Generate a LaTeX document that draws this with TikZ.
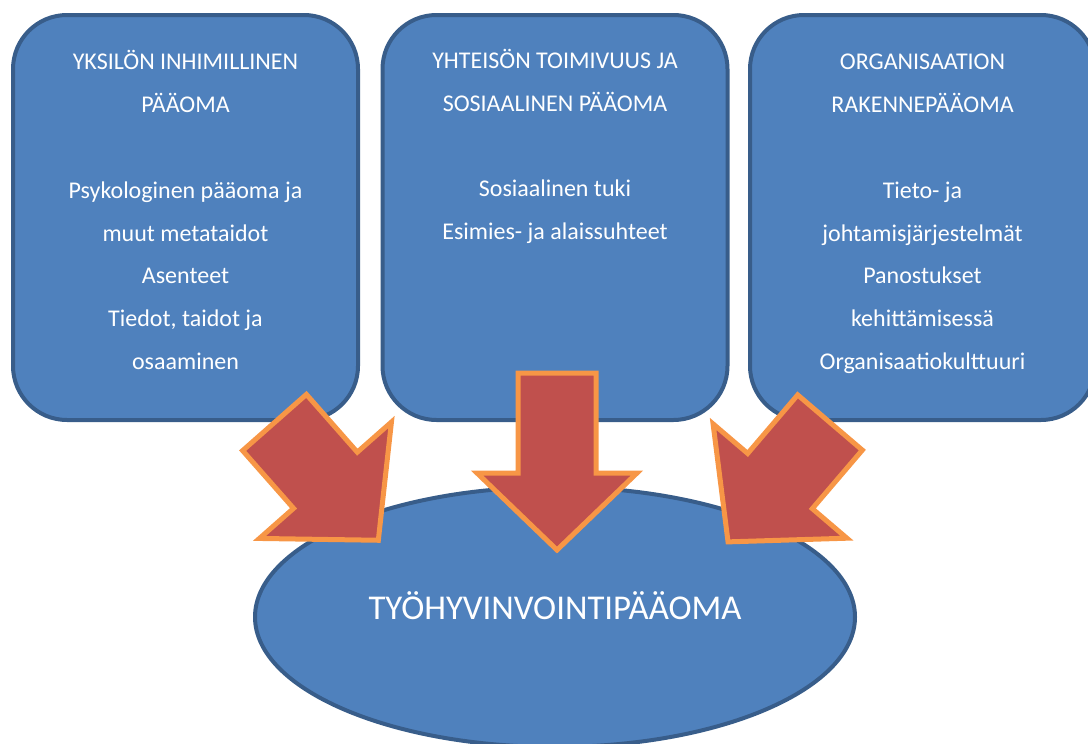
\documentclass[tikz,border=0pt]{standalone}
\usepackage{fontspec}
\setmainfont{Carlito}
\usetikzlibrary{shapes.geometric}
\definecolor{boxblue}{HTML}{4F81BD}
\definecolor{boxedge}{HTML}{385D8A}
\definecolor{arrowred}{HTML}{C0504D}
\definecolor{arroworange}{HTML}{F79646}

\begin{document}
\begin{tikzpicture}[x=0.5pt, y=-0.5pt,
  capital/.style={draw=boxedge, fill=boxblue, line width=2pt, rounded corners=27pt, minimum width=172.5pt, minimum height=202.5pt},
  boxtext/.style={text=white, align=center, anchor=base, inner sep=0pt, font=\fontsize{12}{21.4}\selectfont},
  bigarrow/.style={draw=arroworange, fill=arrowred, line width=2.5pt, line join=miter}]
	\clip (0,0) rectangle (1088,744);
	% three sources of capital
	\node[capital] (yksilo) at (185.5,217.5) {};
	\node[capital] (yhteiso) at (555,217.5) {};
	\node[capital] (organisaatio) at (922.5,217.5) {};
	% text blocks, placed by the baseline of their last line
	\node[boxtext] (yksiloteksti) at (185.5,369.5) {YKSILÖN INHIMILLINEN\\PÄÄOMA\\ \\Psykologinen pääoma ja\\muut metataidot\\Asenteet\\Tiedot, taidot ja\\osaaminen};
	\node[boxtext] (yhteisoteksti) at (555,239.5) {YHTEISÖN TOIMIVUUS JA\\SOSIAALINEN PÄÄOMA\\ \\Sosiaalinen tuki\\Esimies- ja alaissuhteet};
	\node[boxtext] (organisaatioteksti) at (922.5,369.5) {ORGANISAATION\\RAKENNEPÄÄOMA\\ \\Tieto- ja\\johtamisjärjestelmät\\Panostukset\\kehittämisessä\\Organisaatiokulttuuri};
	% result
	\node[ellipse, draw=boxedge, fill=boxblue, line width=2pt, minimum width=300pt, minimum height=130pt] (tyo) at (555,617) {};
	\node[text=white, anchor=base, inner sep=0pt, font=\fontsize{17.4}{21}\selectfont] (tyoteksti) at (555,619) {TYÖHYVINVOINTIPÄÄOMA};
	% block arrows
	\foreach \sx/\sy/\ang/\s/\h/\l/\b in {274.5/422.5/-48.6/42.5/88/157/77, 557/373/-90/39/80/177/100, 830/422.5/-130.5/42.5/88/157/77}
		\draw[bigarrow, shift={(\sx,\sy)}, rotate=\ang] (0,-\s) -- (\b,-\s) -- (\b,-\h) -- (\l,0) -- (\b,\h) -- (\b,\s) -- (0,\s) -- cycle;
\end{tikzpicture}
\end{document}
